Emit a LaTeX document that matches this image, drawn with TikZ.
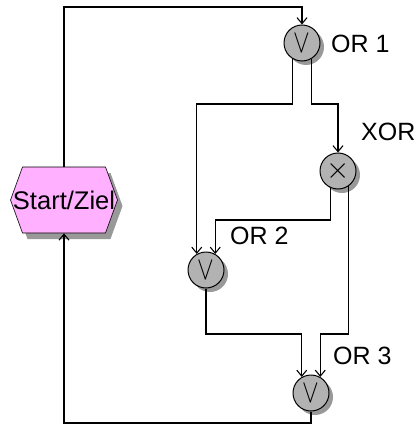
\documentclass[tikz,border=0pt]{standalone}
\usepackage{fontspec}
\setmainfont{Liberation Sans}
\usetikzlibrary{arrows.meta,shapes.symbols,shadows}

\definecolor{eventpink}{RGB}{255,176,255}
\newcommand{\orsym}{\raisebox{-4pt}{\scalebox{2.5}[3.3]{$\vee$}}}
\newcommand{\xorsym}{\scalebox{3}{$\times$}}

\begin{document}
\begin{tikzpicture}[
  x=1pt, y=-1pt,
  gate/.style={draw, circle, minimum size=36pt, inner sep=0pt, fill=gray!60,
    line width=1pt,
    drop shadow={shadow xshift=4pt, shadow yshift=-4pt, fill=black!40, opacity=1}},
  event/.style={draw, signal, signal to=east and west, signal pointer angle=140,
    minimum width=107pt, minimum height=66pt, inner sep=0pt, fill=eventpink,
    line width=0.6pt, font=\fontsize{25.5}{28}\selectfont,
    drop shadow={shadow xshift=5pt, shadow yshift=-6pt, fill=black!40, opacity=1}},
  lbl/.style={anchor=west, inner sep=0pt, font=\fontsize{25}{28}\selectfont},
  arr/.style={-{Straight Barb[length=6pt,width=10pt]}, line width=1.1pt},
]
\useasboundingbox (0,0) rectangle (418,425);

% event and connectors
\node[event] (start) at (64,200) {\makebox[0pt]{Start/Ziel}};
\node[gate] (or1) at (302,43) {\orsym};
\node[gate] (xor) at (338,171) {\xorsym};
\node[gate] (or2) at (206,270) {\orsym};
\node[gate] (or3) at (311,393) {\orsym};

% labels
\node[lbl] (l1) at (331,44) {OR 1};
\node[lbl] (lx) at (361,132) {XOR};
\node[lbl] (l2) at (230,236) {OR 2};
\node[lbl] (l3) at (333,356) {OR 3};

% levels of the horizontal runs
\coordinate (y0) at (0,7);
\coordinate (y1) at (0,104);
\coordinate (y2) at (0,220);
\coordinate (y3) at (0,334);
\coordinate (y4) at (0,423);

\draw[arr] (start.north) |- (y0 -| or1.north) -- (or1.north);
\draw[arr] (or1.-120) |- (y1 -| or2.120) -- (or2.120);
\draw[arr] (or1.-60) |- (y1 -| xor.north) -- (xor.north);
\draw[arr] (xor.-115) |- (y2 -| or2.60) -- (or2.60);
\draw[arr] (xor.-55) |- (y3 -| or3.60) -- (or3.60);
\draw[arr] (or2.south) |- (y3 -| or3.120) -- (or3.120);
\draw[arr] (or3.south) |- (y4 -| start.south) -- (start.south);
\end{tikzpicture}
\end{document}
